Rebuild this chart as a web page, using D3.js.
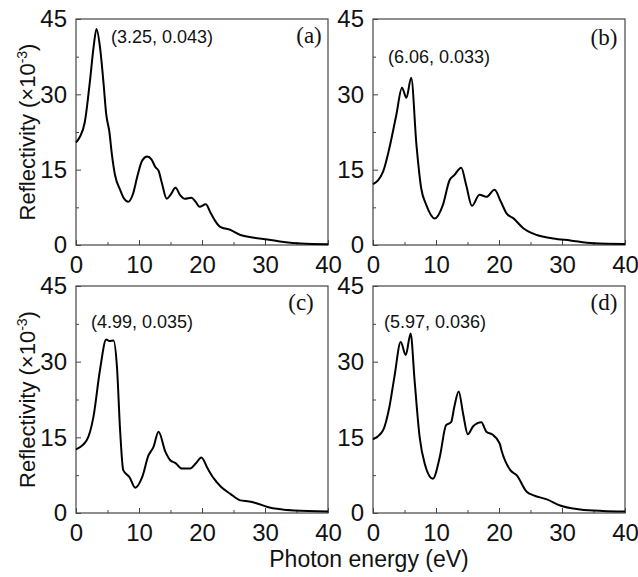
<!DOCTYPE html>
<html>
<head>
<meta charset="utf-8">
<script src="https://cdn.jsdelivr.net/npm/d3@7"></script>
<style>
  html, body { margin: 0; padding: 0; background: #fff; }
  svg { display: block; }
</style>
</head>
<body>
<svg id="chart" width="638" height="577"></svg>
<script>
// Reflectivity spectra (units of 1e-3) versus photon energy (eV)
const panelA = [[0,20.4],[0.6,21.5],[1.4,24.5],[2.2,32.5],[2.8,39.5],[3.25,43],[3.8,39.5],[4.35,32.5],[4.8,26],[5.3,22.5],[5.7,18],[6.2,13.9],[7,11],[7.6,9.3],[8.3,8.6],[9,10],[9.8,14],[10.5,16.8],[11.3,17.6],[12,17],[12.6,15.5],[13.1,14.8],[13.6,12.5],[14.4,9.2],[15,10],[15.8,11.4],[16.5,10],[17.3,9.2],[18.3,9.4],[19,8.6],[19.6,7.6],[20.6,8.1],[21.4,6.3],[22.2,4.6],[22.9,3.6],[24.5,3.0],[26.1,2.0],[28,1.5],[30.4,1.1],[33,0.6],[35.7,0.3],[40,0.15]];
const panelB = [[0,12.1],[1.6,14.6],[2.6,19.3],[3.7,25.9],[4.6,31.3],[5.3,29.3],[6.06,33.3],[6.9,19.9],[7.65,11.3],[8.45,8.0],[9.8,5.3],[11.1,8.0],[12.15,12.9],[12.9,13.9],[14.0,15.4],[14.8,11.9],[15.7,7.8],[16.9,10.0],[18.0,9.6],[19.3,11.0],[20.3,8.6],[21.2,6.3],[22.3,5.3],[23.9,3.3],[26,2.0],[28.6,1.3],[31.3,0.9],[35,0.35],[40,0.2]];
const panelC = [[0,12.6],[1.7,14.4],[2.76,19.0],[3.8,28.3],[4.8,34.4],[5.3,34.1],[5.95,34.2],[6.5,29],[7.0,16.4],[7.5,8.5],[8.5,7.1],[9.4,5.0],[10.5,7.1],[11.5,11.4],[12.3,13.1],[13.1,16.1],[14.2,12.1],[15.0,10.4],[15.8,9.9],[16.8,8.8],[18.1,8.8],[19.0,9.8],[19.9,11.0],[20.9,8.8],[21.9,6.8],[23,5.2],[24.5,3.8],[26.1,2.5],[27.5,2.3],[28.5,2.0],[30.4,1.2],[34.6,0.5],[40,0.3]];
const panelD = [[0,14.6],[1.6,16.4],[2.6,21.0],[3.4,27],[4.4,33.9],[5.2,31.3],[5.97,35.6],[6.6,26.3],[7.4,15.1],[8.2,9.8],[9.5,6.8],[10.6,11.1],[11.6,17.4],[12.4,18.0],[12.9,21.0],[13.6,24.1],[14.3,19.7],[15.05,15.6],[15.9,17.2],[17.2,18.0],[18.0,16.1],[18.9,15.6],[20.1,13.8],[20.4,12.4],[21.8,8.5],[22.8,7.5],[24.4,4.2],[25.5,3.5],[27.6,2.7],[29.7,1.5],[32.9,0.7],[36.5,0.4],[40,0.3]];

const panelLetters = ["(a)", "(b)", "(c)", "(d)"];
const peakLabels = ["(3.25, 0.043)", "(6.06, 0.033)", "(4.99, 0.035)", "(5.97, 0.036)"];
const xTicks = [0, 10, 20, 30, 40];
const xMinor = [5, 15, 25, 35];
const yTicks = [0, 15, 30, 45];
const yMinor = [7.5, 22.5, 37.5];
const xTitle = "Photon energy (eV)";

const svg = d3.select("#chart");
const sans = "'Liberation Sans', Arial, sans-serif";
const serif = "'Liberation Serif', 'Times New Roman', serif";

const panels = [
  { data: panelA, x0: 76,  x1: 328, y0: 19,  y1: 245, peak: [162, 43], letter: [309, 43], yTitle: true },
  { data: panelB, x0: 373, x1: 625, y0: 19,  y1: 245, peak: [439, 63], letter: [604, 45], yTitle: false },
  { data: panelC, x0: 76,  x1: 328, y0: 286, y1: 513, peak: [142, 328], letter: [301, 310], yTitle: true },
  { data: panelD, x0: 373, x1: 625, y0: 286, y1: 513, peak: [435, 328], letter: [604, 310], yTitle: false }
];

panels.forEach((p, i) => {
  const x = d3.scaleLinear().domain([0, 40]).range([p.x0, p.x1]);
  const y = d3.scaleLinear().domain([0, 45]).range([p.y1, p.y0]);
  const g = svg.append("g");

  // frame
  g.append("rect")
    .attr("x", p.x0).attr("y", p.y0)
    .attr("width", p.x1 - p.x0).attr("height", p.y1 - p.y0)
    .attr("fill", "none").attr("stroke", "#444").attr("stroke-width", 1.2);

  // bottom axis: inward ticks
  const xAxis = d3.axisBottom(x).tickValues(xTicks).tickSize(-5).tickPadding(11).tickFormat(d3.format("d"));
  const xa = g.append("g").attr("transform", `translate(0,${p.y1})`).call(xAxis);
  xa.select(".domain").remove();
  xa.selectAll("line").attr("stroke", "#444");
  xa.selectAll("text").attr("font-family", sans).attr("font-size", 24).attr("fill", "#111");
  const xm = g.append("g").attr("transform", `translate(0,${p.y1})`)
    .call(d3.axisBottom(x).tickValues(xMinor).tickSize(-3).tickFormat(""));
  xm.select(".domain").remove();
  xm.selectAll("line").attr("stroke", "#444");

  // left axis: inward ticks
  const yAxis = d3.axisLeft(y).tickValues(yTicks).tickSize(-5).tickPadding(9).tickFormat(d3.format("d"));
  const ya = g.append("g").attr("transform", `translate(${p.x0},0)`).call(yAxis);
  ya.select(".domain").remove();
  ya.selectAll("line").attr("stroke", "#444");
  ya.selectAll("text").attr("font-family", sans).attr("font-size", 24).attr("fill", "#111");
  const ym = g.append("g").attr("transform", `translate(${p.x0},0)`)
    .call(d3.axisLeft(y).tickValues(yMinor).tickSize(-3).tickFormat(""));
  ym.select(".domain").remove();
  ym.selectAll("line").attr("stroke", "#444");

  // spectrum
  const line = d3.line().x(d => x(d[0])).y(d => y(d[1])).curve(d3.curveMonotoneX);
  g.append("path").datum(p.data)
    .attr("d", line)
    .attr("fill", "none").attr("stroke", "#000").attr("stroke-width", 2)
    .attr("stroke-linejoin", "round");

  // peak annotation and panel letter
  g.append("text").attr("x", p.peak[0]).attr("y", p.peak[1])
    .attr("text-anchor", "middle").attr("font-family", sans).attr("font-size", 18).attr("fill", "#111")
    .text(peakLabels[i]);
  g.append("text").attr("x", p.letter[0]).attr("y", p.letter[1])
    .attr("text-anchor", "middle").attr("font-family", serif).attr("font-size", 23).attr("fill", "#111")
    .text(panelLetters[i]);

  if (p.yTitle) {
    const cy = (p.y0 + p.y1) / 2;
    const t = g.append("text")
      .attr("transform", `translate(35,${cy}) rotate(-90)`)
      .attr("text-anchor", "middle").attr("font-family", sans).attr("font-size", 22).attr("fill", "#111");
    t.append("tspan").text("Reflectivity (×10");
    t.append("tspan").attr("dy", -8).attr("font-size", 14).text("-3");
    t.append("tspan").attr("dy", 8).text(")");
  }
});

svg.append("text").attr("x", 369).attr("y", 567)
  .attr("text-anchor", "middle").attr("font-family", sans).attr("font-size", 23).attr("fill", "#111")
  .text(xTitle);
</script>
</body>
</html>
